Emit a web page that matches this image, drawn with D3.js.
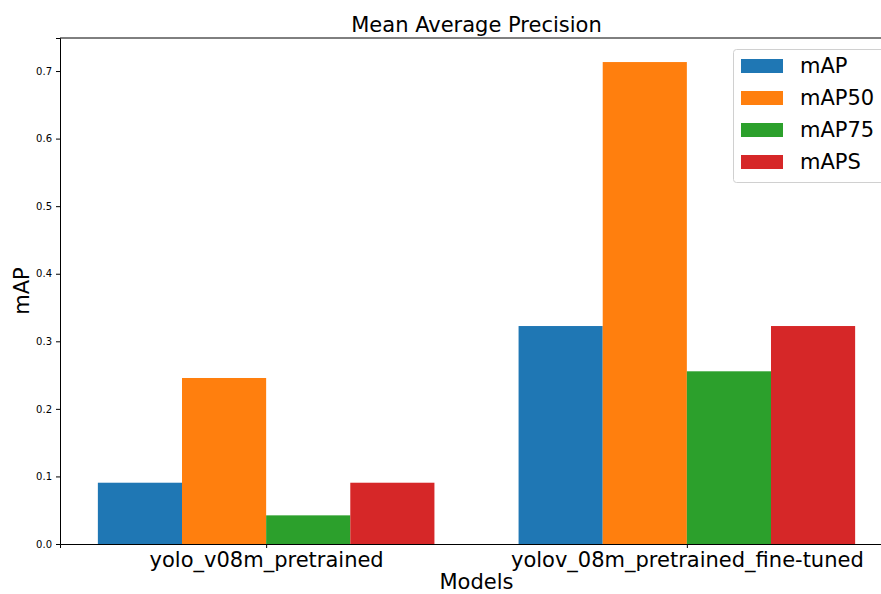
<!DOCTYPE html>
<html><head><meta charset="utf-8">
<script src="https://cdn.jsdelivr.net/npm/d3@7"></script>
<style>body{margin:0;background:#fff}svg{display:block}text{font-family:"DejaVu Sans",sans-serif}</style>
</head><body><svg id="c" width="881" height="594"></svg>
<script>
const categories = ["yolo_v08m_pretrained", "yolov_08m_pretrained_fine-tuned"];
const seriesNames = ["mAP", "mAP50", "mAP75", "mAPS"];
const seriesColors = ["#1f77b4", "#ff7f0e", "#2ca02c", "#d62728"];
const mAP   = [0.0907, 0.3226];
const mAP50 = [0.2457, 0.7133];
const mAP75 = [0.0424, 0.2556];
const mAPS  = [0.0907, 0.3226];
const yTicks = [0.0, 0.1, 0.2, 0.3, 0.4, 0.5, 0.6, 0.7];
const seriesValues = [mAP, mAP50, mAP75, mAPS];

const svg = d3.select("#c");
const L = 60, R = 893, T = 38, B = 544;
const x = d3.scaleLinear().domain([-0.49, 1.49]).range([L, R]);
const y = d3.scaleLinear().domain([0, 0.7489]).range([B, T]);
const bw = 0.2;

const g = svg.append("g");
seriesValues.forEach((vals, si) => {
  g.selectAll(null).data(vals).enter().append("rect")
    .attr("x", (d, i) => x(i + (si - 2) * bw))
    .attr("width", x(bw) - x(0))
    .attr("y", d => y(d))
    .attr("height", d => y(0) - y(d))
    .attr("fill", seriesColors[si]);
});

svg.append("line").attr("x1", L).attr("x2", R).attr("y1", T).attr("y2", T).attr("stroke", "#000").attr("stroke-width", 1);
svg.append("line").attr("x1", R).attr("x2", R).attr("y1", T).attr("y2", B).attr("stroke", "#000").attr("stroke-width", 1);

const ya = svg.append("g").attr("transform", `translate(${L},0)`)
  .call(d3.axisLeft(y).tickValues(yTicks).tickFormat(d3.format(".1f")).tickSizeOuter(0).tickSize(4).tickPadding(4));
ya.select(".domain").attr("stroke", "#000");
ya.selectAll("text").attr("font-size", 10).attr("font-family", "DejaVu Sans").attr("fill", "#000");

const xa = svg.append("g").attr("transform", `translate(0,${B})`)
  .call(d3.axisBottom(x).tickValues([0, 1]).tickFormat((d, i) => categories[i]).tickSizeOuter(0).tickSize(4).tickPadding(4));
xa.select(".domain").attr("stroke", "#000");
xa.selectAll("text").attr("font-size", 21).attr("font-family", "DejaVu Sans").attr("fill", "#000");

svg.append("text").attr("x", (L + R) / 2).attr("y", 32).attr("text-anchor", "middle").attr("font-size", 21).text("Mean Average Precision");
svg.append("text").attr("x", (L + R) / 2).attr("y", 589).attr("text-anchor", "middle").attr("font-size", 21).text("Models");
svg.append("text").attr("transform", `translate(29,${(T + B) / 2}) rotate(-90)`).attr("text-anchor", "middle").attr("font-size", 21).text("mAP");

const lg = svg.append("g");
lg.append("rect").attr("x", 733.5).attr("y", 49.5).attr("width", 152).attr("height", 133).attr("rx", 3)
  .attr("fill", "#fff").attr("fill-opacity", 0.8).attr("stroke", "#d0d0d0");
seriesNames.forEach((n, i) => {
  const cy = 66 + i * 32;
  lg.append("rect").attr("x", 741).attr("y", cy - 7).attr("width", 42).attr("height", 14).attr("fill", seriesColors[i]);
  lg.append("text").attr("x", 800).attr("y", cy).attr("dy", "0.35em").attr("font-size", 21).text(n);
});
</script></body></html>
